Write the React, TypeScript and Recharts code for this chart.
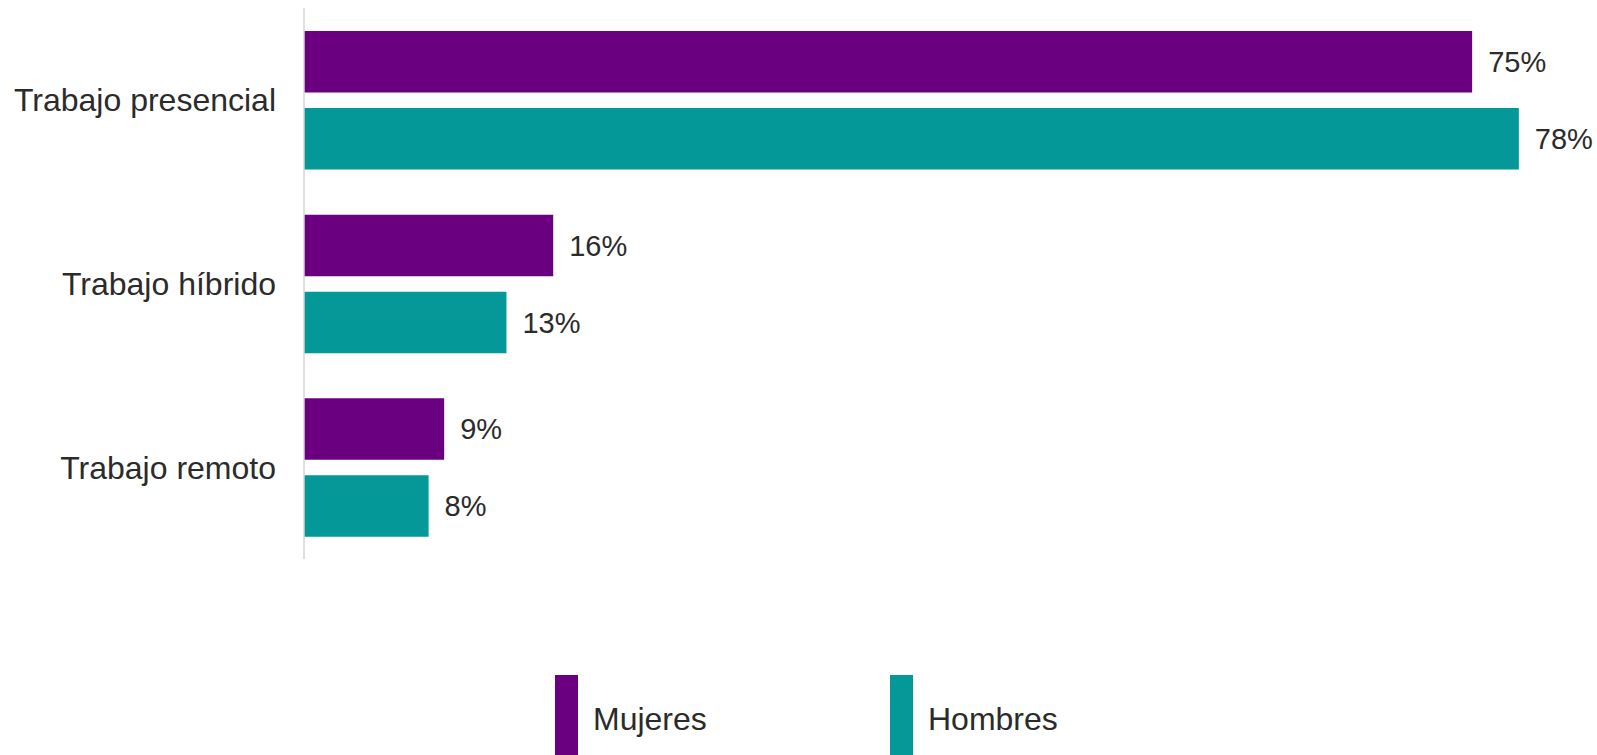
import { BarChart, Bar, XAxis, YAxis, LabelList } from 'recharts';

const categories = ['Trabajo presencial', 'Trabajo híbrido', 'Trabajo remoto'];
const mujeres = [75, 16, 9];
const hombres = [78, 13, 8];

const PURPLE = '#6a0080';
const TEAL = '#059898';
const TEXT = '#2b2b2b';
const FONT = '"Liberation Sans", Arial, sans-serif';

const chartData = categories.map((name, i) => ({
  name,
  mujeres: mujeres[i],
  hombres: hombres[i],
}));

const legendItems = [
  { label: 'Mujeres', color: PURPLE, left: 555 },
  { label: 'Hombres', color: TEAL, left: 890 },
];

if (typeof document !== 'undefined') {
  document.body.style.margin = '0';
}

export default function App() {
  return (
    <div style={{ position: 'relative', width: 1597, height: 755, overflow: 'hidden', fontFamily: FONT, background: '#fff' }}>
      <BarChart
        width={1597}
        height={755}
        data={chartData}
        layout="vertical"
        margin={{ top: 8, right: 47, bottom: 196, left: 0 }}
        barSize={61.5}
        barGap={15.5}
      >
        <XAxis type="number" domain={[0, 80]} hide />
        <YAxis
          type="category"
          dataKey="name"
          width={304}
          axisLine={{ stroke: '#d4d4d4', strokeWidth: 1.5 }}
          tickLine={false}
          tickSize={6}
          tickMargin={22}
          tick={{ fill: TEXT, fontSize: 32, fontFamily: FONT }}
        />
        <Bar dataKey="mujeres" fill={PURPLE} isAnimationActive={false}>
          <LabelList
            dataKey="mujeres"
            position="right"
            offset={16}
            formatter={(v: number) => `${v}%`}
            style={{ fill: TEXT, fontSize: 29, fontFamily: FONT }}
          />
        </Bar>
        <Bar dataKey="hombres" fill={TEAL} isAnimationActive={false}>
          <LabelList
            dataKey="hombres"
            position="right"
            offset={16}
            formatter={(v: number) => `${v}%`}
            style={{ fill: TEXT, fontSize: 29, fontFamily: FONT }}
          />
        </Bar>
      </BarChart>
      {legendItems.map((item) => (
        <div key={item.label}>
          <div
            style={{
              position: 'absolute',
              left: item.left,
              top: 675,
              width: 23,
              height: 80,
              backgroundColor: item.color,
            }}
          />
          <div
            style={{
              position: 'absolute',
              left: item.left + 38,
              top: 700,
              fontSize: 32,
              lineHeight: '38px',
              color: TEXT,
            }}
          >
            {item.label}
          </div>
        </div>
      ))}
    </div>
  );
}
